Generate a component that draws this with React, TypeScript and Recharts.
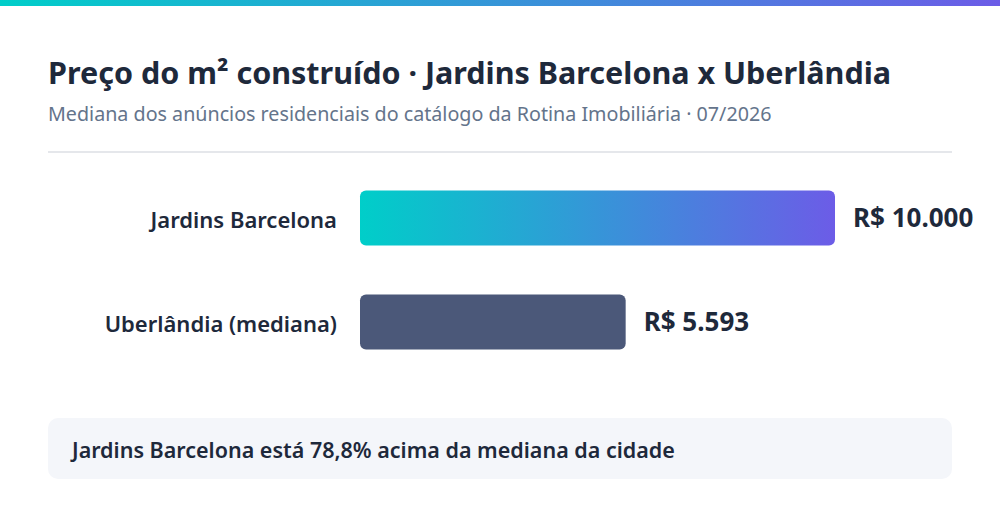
import { Bar, BarChart, Cell, LabelList, XAxis, YAxis } from "recharts";

const categories = ["Jardins Barcelona", "Uberlândia (mediana)"];
const prices = [10000, 5593];
const barFills = ["url(#barGrad)", "#4b5879"];

const data = categories.map((name, i) => ({ name, value: prices[i] }));

const FONT = '"Noto Sans", "Open Sans", sans-serif';
const INK = "#1e293b";

const fmt = (v: number) =>
  "R$ " + String(Math.round(v)).replace(/\B(?=(\d{3})+(?!\d))/g, ".");

function CategoryTick({ x, y, payload }: any) {
  return (
    <text x={x} y={y} dy={10} textAnchor="end" fill={INK} fontSize={22} fontWeight={600} fontFamily={FONT}>
      {payload.value}
    </text>
  );
}

function ValueLabel({ x, y, width, height, value }: any) {
  return (
    <text
      x={x + width + 18}
      y={y + height / 2}
      dy={9}
      fill={INK}
      fontSize={26}
      fontWeight={700}
      fontFamily={FONT}
    >
      {fmt(value)}
    </text>
  );
}

export default function App() {
  return (
    <div
      style={{
        position: "fixed",
        top: 0,
        left: 0,
        width: 1000,
        height: 520,
        background: "#fff",
        fontFamily: FONT,
        overflow: "hidden",
      }}
    >
      <div style={{ height: 6, background: "linear-gradient(90deg, #00cec9, #6c5ce7)" }} />
      <div
        style={{
          position: "absolute",
          left: 48,
          top: 51.5,
          fontSize: 30.5,
          fontWeight: 700,
          color: INK,
          whiteSpace: "nowrap",
          lineHeight: "40px",
        }}
      >
        Preço do m² construído · Jardins Barcelona x Uberlândia
      </div>
      <div
        style={{
          position: "absolute",
          left: 48,
          top: 100,
          fontSize: 19.7,
          color: "#64748b",
          whiteSpace: "nowrap",
          lineHeight: "28px",
        }}
      >
        Mediana dos anúncios residenciais do catálogo da Rotina Imobiliária · 07/2026
      </div>
      <div style={{ position: "absolute", left: 48, top: 151, width: 904, height: 2, background: "#e5e7eb" }} />

      <div style={{ position: "absolute", left: 0, top: 0 }}>
        <BarChart
          width={1000}
          height={400}
          data={data}
          layout="vertical"
          margin={{ top: 165.5, right: 165, bottom: 26.5, left: 0 }}
          barSize={55}
        >
          <defs>
            <linearGradient id="barGrad" x1="0" y1="0" x2="1" y2="0">
              <stop offset="0%" stopColor="#00cec9" />
              <stop offset="100%" stopColor="#6c5ce7" />
            </linearGradient>
          </defs>
          <XAxis type="number" domain={[0, 10000]} hide />
          <YAxis
            type="category"
            dataKey="name"
            width={360}
            axisLine={false}
            tickLine={false}
            tickSize={0}
            tickMargin={23}
            tick={<CategoryTick />}
          />
          <Bar dataKey="value" radius={6} isAnimationActive={false}>
            {data.map((d, i) => (
              <Cell key={d.name} fill={barFills[i]} />
            ))}
            <LabelList dataKey="value" content={<ValueLabel />} />
          </Bar>
        </BarChart>
      </div>

      <div
        style={{
          position: "absolute",
          left: 48,
          top: 418,
          width: 904,
          height: 61,
          borderRadius: 10,
          background: "#f4f6fa",
          boxSizing: "border-box",
          paddingLeft: 24,
          paddingTop: 2,
          display: "flex",
          alignItems: "center",
          fontSize: 21.5,
          fontWeight: 600,
          color: INK,
          whiteSpace: "nowrap",
        }}
      >
        Jardins Barcelona está 78,8% acima da mediana da cidade
      </div>
    </div>
  );
}
